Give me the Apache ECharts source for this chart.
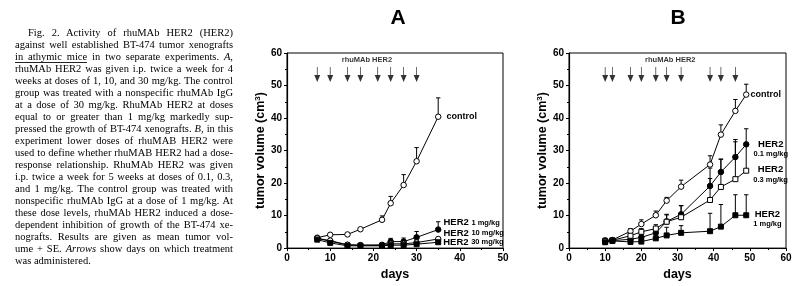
<!DOCTYPE html>
<html><head><meta charset="utf-8">
<script src="https://cdn.jsdelivr.net/npm/echarts@6/dist/echarts.min.js"></script>
<style>
html,body{margin:0;padding:0;background:#fff;}
#wrap{position:relative;width:800px;height:286px;overflow:hidden;}
#chart{position:absolute;left:0;top:0;width:800px;height:286px;}
#cap{position:absolute;left:15px;top:27px;width:218px;font-family:'Liberation Serif','Times New Roman',serif;font-size:10.5px;line-height:12px;color:#000;}
#cap div{white-space:nowrap;text-align:justify;text-align-last:justify;}
#cap div.last{text-align:left;text-align-last:left;}
#cap div.first{padding-left:13px;}
#cap .ul{border-bottom:1px solid #222;}
</style></head>
<body>
<div id="wrap">
<div id="chart"></div>
<div id="cap">
<div class="first">Fig. 2. Activity of rhuMAb HER2 (HER2)</div>
<div>against well established BT-474 tumor xenografts</div>
<div><span class="ul">in athymic mice</span> in two separate experiments. <i>A,</i></div>
<div>rhuMAb HER2 was given i.p. twice a week for 4</div>
<div>weeks at doses of 1, 10, and 30 mg/kg. The control</div>
<div>group was treated with a nonspecific rhuMAb IgG</div>
<div>at a dose of 30 mg/kg. RhuMAb HER2 at doses</div>
<div>equal to or greater than 1 mg/kg markedly sup-</div>
<div>pressed the growth of BT-474 xenografts. <i>B,</i> in this</div>
<div>experiment lower doses of rhuMAB HER2 were</div>
<div>used to define whether rhuMAB HER2 had a dose-</div>
<div>response relationship. RhuMAb HER2 was given</div>
<div>i.p. twice a week for 5 weeks at doses of 0.1, 0.3,</div>
<div>and 1 mg/kg. The control group was treated with</div>
<div>nonspecific rhuMAb IgG at a dose of 1 mg/kg. At</div>
<div>these dose levels, rhuMAb HER2 induced a dose-</div>
<div>dependent inhibition of growth of the BT-474 xe-</div>
<div>nografts. Results are given as mean tumor vol-</div>
<div>ume + SE. <i>Arrows</i> show days on which treatment</div>
<div class="last">was administered.</div>
</div>
</div>
<script>
// ---------- data: panel A ----------
const daysA = [7, 10, 14, 17, 22, 24, 27, 30, 35];
const controlA = [3.2, 4.1, 4.2, 5.8, 8.7, 13.8, 19.4, 26.7, 40.4];
const controlA_se = [0, 0, 0, 0, 1.2, 2.1, 3.2, 4.2, 5.8];
const her2_1A = [3.0, 2.1, 1.0, 0.9, 1.0, 2.0, 2.0, 3.3, 5.7];
const her2_1A_se = [0, 0, 0, 0, 0.5, 1.0, 1.1, 1.8, 2.4];
const her2_10A = [3.0, 2.3, 1.0, 0.9, 0.8, 1.3, 1.3, 1.7, 2.8];
const her2_10A_se = [0, 0, 0, 0, 0, 0.3, 0.3, 0.4, 0.5];
const her2_30A = [2.6, 1.6, 0.7, 0.7, 0.7, 0.9, 0.9, 1.2, 1.8];
const her2_30A_se = [0, 0, 0, 0, 0, 0, 0, 0, 0];
const arrowDaysA = [7, 10, 14, 17, 21, 24, 27, 30];

// ---------- data: panel B ----------
const daysB = [10, 12, 17, 20, 24, 27, 31, 39, 42, 46, 49];
const controlB = [2.4, 2.5, 5.2, 7.4, 10.1, 14.6, 18.9, 25.7, 34.9, 42.2, 47.2];
const controlB_se = [0, 0, 0.8, 1.3, 1.3, 1.0, 2.0, 2.7, 3.0, 3.5, 3.2];
const her2_01B = [2.0, 2.3, 2.7, 3.3, 4.7, 8.2, 10.4, 19.1, 23.4, 28.0, 31.9];
const her2_01B_se = [0, 0, 0.5, 0.8, 1.5, 2.0, 2.7, 5.5, 4.0, 5.4, 4.8];
const her2_03B = [2.2, 2.4, 3.8, 5.0, 6.0, 8.1, 9.5, 14.8, 18.8, 21.2, 23.8];
const her2_03B_se = [0, 0, 0.7, 1.0, 1.2, 2.3, 3.5, 6.6, 8.5, 11.5, 8.0];
const her2_1B = [1.8, 2.2, 1.9, 2.0, 3.0, 3.9, 4.7, 5.2, 6.6, 10.1, 10.1];
const her2_1B_se = [0, 0, 0.3, 0.5, 0.7, 2.5, 2.2, 5.5, 6.8, 6.3, 6.3];
const arrowDaysB = [10, 12, 17, 20, 24, 27, 31, 39, 42, 46];

// ---------- axes ----------
const xMaxA = 50, xMaxB = 60, yMax = 60;
const arrowLevel = 53.4;
const arrowLabelLevel = 57.8;

const FONT = 'Liberation Sans, Arial, sans-serif';
const chart = echarts.init(document.getElementById('chart'), null, {renderer: 'canvas'});

function xAxis(gi, max) {
  return {
    gridIndex: gi, type: 'value', min: 0, max: max, interval: 10,
    axisLine: {show: true, onZero: false, lineStyle: {color: '#000', width: 1.2}},
    axisTick: {show: true, length: 3, lineStyle: {color: '#000'}},
    minorTick: {show: true, splitNumber: 2, length: 2, lineStyle: {color: '#000'}},
    axisLabel: {color: '#000', fontSize: 10, fontWeight: 'bold', fontFamily: FONT, margin: 5},
    splitLine: {show: false},
    name: 'days', nameLocation: 'middle', nameGap: 17,
    nameTextStyle: {color: '#000', fontSize: 12.5, fontWeight: 'bold', fontFamily: FONT}
  };
}
function yAxis(gi) {
  return {
    gridIndex: gi, type: 'value', min: 0, max: yMax, interval: 10,
    axisLine: {show: true, lineStyle: {color: '#000', width: 1.2}},
    axisTick: {show: true, length: 3, lineStyle: {color: '#000'}},
    minorTick: {show: true, splitNumber: 2, length: 2, lineStyle: {color: '#000'}},
    axisLabel: {color: '#000', fontSize: 10, fontWeight: 'bold', fontFamily: FONT, margin: 5},
    splitLine: {show: false},
    name: '{a|tumor volume (cm}{s|3}{a|)}', nameLocation: 'middle', nameGap: 15,
    nameTextStyle: {
      color: '#000', fontFamily: FONT,
      rich: {
        a: {fontSize: 12.5, fontWeight: 'bold', fontFamily: FONT, color: '#000'},
        s: {fontSize: 8, fontWeight: 'bold', fontFamily: FONT, color: '#000', verticalAlign: 'top', padding: [0, 0, 6, 0]}
      }
    }
  };
}

const labelRich = {
  h: {fontSize: 9.5, fontWeight: 'bold', fontFamily: FONT, color: '#000', align: 'center', lineHeight: 10},
  d: {fontSize: 7.5, fontWeight: 'bold', fontFamily: FONT, color: '#000', align: 'center', lineHeight: 10},
  c: {fontSize: 9, fontWeight: 'bold', fontFamily: FONT, color: '#000'},
  hi: {fontSize: 9.5, fontWeight: 'bold', fontFamily: FONT, color: '#000'},
  di: {fontSize: 7.5, fontWeight: 'bold', fontFamily: FONT, color: '#000'}
};

function lineSeries(gi, days, vals, symbol, filled, label) {
  const data = days.map((d, i) => {
    const item = {value: [d, vals[i]]};
    if (i === days.length - 1 && label) item.label = Object.assign({show: true, color: '#000', rich: labelRich}, label);
    return item;
  });
  return {
    type: 'line', xAxisIndex: gi, yAxisIndex: gi, data: data, z: 3,
    symbol: symbol, symbolSize: symbol === 'rect' ? 5 : 5.5, showSymbol: true,
    color: '#000',
    lineStyle: {color: '#000', width: 1},
    itemStyle: {color: filled ? '#000' : '#fff', borderColor: '#000', borderWidth: 1},
    label: {show: false, color: '#000'}, silent: true, animation: false
  };
}
function errSeries(gi, days, vals, se) {
  const data = [];
  days.forEach((d, i) => { if (se[i] > 0) data.push([d, vals[i], vals[i] + se[i]]); });
  return {
    type: 'custom', xAxisIndex: gi, yAxisIndex: gi, z: 2, silent: true, animation: false,
    encode: {x: 0, y: [1, 2]},
    renderItem: function (params, api) {
      const p1 = api.coord([api.value(0), api.value(1)]);
      const p2 = api.coord([api.value(0), api.value(2)]);
      const cap = 2.2;
      return {type: 'group', children: [
        {type: 'line', shape: {x1: p1[0], y1: p1[1], x2: p2[0], y2: p2[1]}, style: {stroke: '#000', lineWidth: 1}},
        {type: 'line', shape: {x1: p2[0] - cap, y1: p2[1], x2: p2[0] + cap, y2: p2[1]}, style: {stroke: '#000', lineWidth: 1}}
      ]};
    },
    data: data
  };
}
const arrowPath = 'path://M4.4,0 L5.6,0 L5.6,13 L10,13 L5,24 L0,13 L4.4,13 Z';
function arrowSeries(gi, days) {
  return {
    type: 'scatter', xAxisIndex: gi, yAxisIndex: gi, silent: true, animation: false, z: 4,
    symbol: arrowPath, symbolSize: [6, 15],
    itemStyle: {color: '#000'},
    data: days.map(d => [d, arrowLevel])
  };
}
function arrowLabel(gi, days) {
  const mid = (days[0] + days[days.length - 1]) / 2;
  return {
    type: 'scatter', xAxisIndex: gi, yAxisIndex: gi, silent: true, animation: false, z: 4,
    symbolSize: 0,
    label: {show: true, position: 'inside', formatter: 'rhuMAb HER2', color: '#000', fontSize: 7.5, fontWeight: 'bold', fontFamily: FONT},
    data: [[mid, arrowLabelLevel]]
  };
}

const option = {
  backgroundColor: '#fff',
  animation: false,
  grid: [
    {left: 287, top: 53, width: 216, height: 200, show: true, borderColor: '#000', borderWidth: 1, backgroundColor: 'transparent'},
    {left: 569, top: 53, width: 217, height: 200, show: true, borderColor: '#000', borderWidth: 1, backgroundColor: 'transparent'}
  ],
  xAxis: [xAxis(0, xMaxA), xAxis(1, xMaxB)],
  yAxis: [yAxis(0), yAxis(1)],
  graphic: [
    {type: 'text', x: 398, y: 18, style: {text: 'A', align: 'center', verticalAlign: 'middle', font: 'bold 21px ' + FONT, fill: '#000'}},
    {type: 'text', x: 678, y: 18, style: {text: 'B', align: 'center', verticalAlign: 'middle', font: 'bold 21px ' + FONT, fill: '#000'}}
  ],
  series: [
    errSeries(0, daysA, controlA, controlA_se),
    errSeries(0, daysA, her2_1A, her2_1A_se),
    errSeries(0, daysA, her2_10A, her2_10A_se),
    errSeries(0, daysA, her2_30A, her2_30A_se),
    lineSeries(0, daysA, controlA, 'circle', false, {position: 'right', distance: 5, formatter: '{c|control}'}),
    lineSeries(0, daysA, her2_1A, 'circle', true, {position: 'right', distance: 2, offset: [0, -7], formatter: '{hi|HER2 }{di|1 mg/kg}'}),
    lineSeries(0, daysA, her2_10A, 'circle', false, {position: 'right', distance: 2, offset: [0, -6], formatter: '{hi|HER2 }{di|10 mg/kg}'}),
    lineSeries(0, daysA, her2_30A, 'rect', true, {position: 'right', distance: 2, offset: [0, 0], formatter: '{hi|HER2 }{di|30 mg/kg}'}),
    arrowSeries(0, arrowDaysA),
    arrowLabel(0, arrowDaysA),

    errSeries(1, daysB, controlB, controlB_se),
    errSeries(1, daysB, her2_01B, her2_01B_se),
    errSeries(1, daysB, her2_03B, her2_03B_se),
    errSeries(1, daysB, her2_1B, her2_1B_se),
    lineSeries(1, daysB, controlB, 'circle', false, {position: 'right', distance: 1, formatter: '{c|control}'}),
    lineSeries(1, daysB, her2_01B, 'circle', true, {position: 'right', distance: 4, offset: [0, 5], formatter: '{h|HER2}\n{d|0.1 mg/kg}'}),
    lineSeries(1, daysB, her2_03B, 'rect', false, {position: 'right', distance: 4, offset: [0, 4], formatter: '{h|HER2}\n{d|0.3 mg/kg}'}),
    lineSeries(1, daysB, her2_1B, 'rect', true, {position: 'right', distance: 4, offset: [0, 4], formatter: '{h|HER2}\n{d|1 mg/kg}'}),
    arrowSeries(1, arrowDaysB),
    arrowLabel(1, arrowDaysB)
  ]
};
chart.setOption(option);
</script>
</body></html>
